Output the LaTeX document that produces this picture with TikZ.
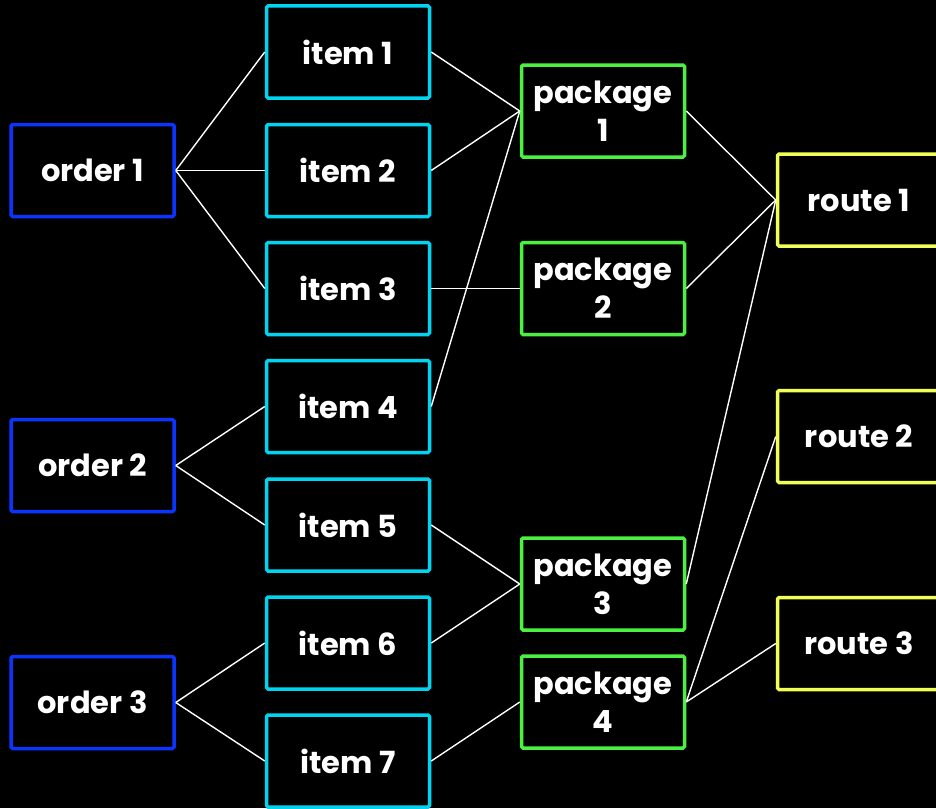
\documentclass[tikz,border=0pt]{standalone}
\usepackage{fontspec}
\setmainfont{Poppins}[UprightFont=* Bold, BoldFont=* Bold]
\begin{document}
\begin{tikzpicture}[x=1pt,y=-1pt,
  box/.style={draw, line width=3.5pt, rounded corners=1.5pt, minimum width=163pt, minimum height=92pt,
    text=white, align=center, font=\fontsize{30.5}{38}\selectfont, inner sep=0pt},
  ord/.style={box, draw=ordc},
  itm/.style={box, draw=itmc},
  pkg/.style={box, draw=pkgc},
  rte/.style={box, draw=rtec},
  link/.style={draw=white, line width=1.4pt}]
\definecolor{ordc}{HTML}{0A35FF}
\definecolor{itmc}{HTML}{00D4F0}
\definecolor{pkgc}{HTML}{4CF040}
\definecolor{rtec}{HTML}{F0FF55}
\fill[black] (0,0) rectangle (936,808);
\useasboundingbox (0,0) rectangle (936,808);
\begin{scope}
\clip (0,0) rectangle (936,808);
\node[ord] (o1) at (92.5,170.5) {order 1};
\node[ord] (o2) at (92.5,465.5) {order 2};
\node[ord] (o3) at (92.5,702.5) {order 3};
\node[itm] (i1) at (348,52) {item 1};
\node[itm] (i2) at (348,170.5) {item 2};
\node[itm] (i3) at (348,288.5) {item 3};
\node[itm] (i4) at (348,406.5) {item 4};
\node[itm] (i5) at (348,525) {item 5};
\node[itm] (i6) at (348,643) {item 6};
\node[itm] (i7) at (348,761) {item 7};
\node[pkg] (p1) at (603,111) {package\\1};
\node[pkg] (p2) at (603,288.5) {package\\2};
\node[pkg] (p3) at (603,584) {package\\3};
\node[pkg] (p4) at (603,702) {package\\4};
\node[rte] (r1) at (859,200) {route 1};
\node[rte] (r2) at (859,436.5) {route 2};
\node[rte] (r3) at (859,643.5) {route 3};
\end{scope}
\draw[link] (o1.east) -- (i1.west);
\draw[link] (o1.east) -- (i2.west);
\draw[link] (o1.east) -- (i3.west);
\draw[link] (o2.east) -- (i4.west);
\draw[link] (o2.east) -- (i5.west);
\draw[link] (o3.east) -- (i6.west);
\draw[link] (o3.east) -- (i7.west);
\draw[link] (i1.east) -- (p1.west);
\draw[link] (i2.east) -- (p1.west);
\draw[link] (i4.east) -- (p1.west);
\draw[link] (i3.east) -- (p2.west);
\draw[link] (i5.east) -- (p3.west);
\draw[link] (i6.east) -- (p3.west);
\draw[link] (i7.east) -- (p4.west);
\draw[link] (p1.east) -- (r1.west);
\draw[link] (p2.east) -- (r1.west);
\draw[link] (p3.east) -- (r1.west);
\draw[link] (p4.east) -- (r2.west);
\draw[link] (p4.east) -- (r3.west);
\end{tikzpicture}
\end{document}
